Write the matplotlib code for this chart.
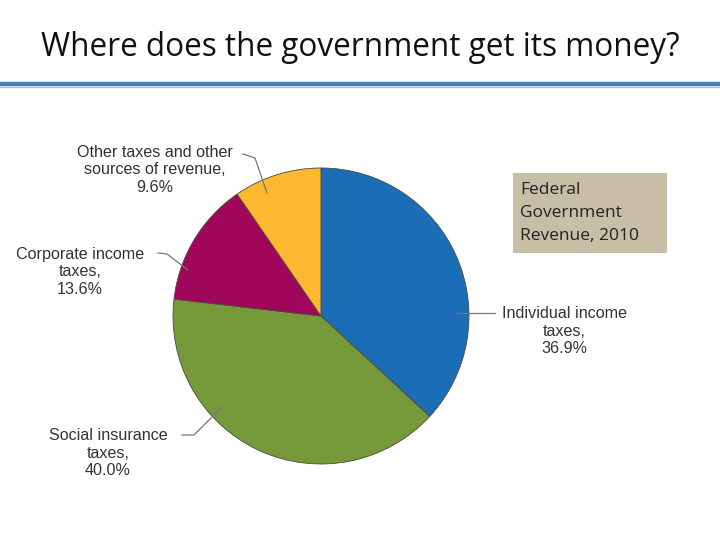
import matplotlib
matplotlib.use('Agg')
import matplotlib.pyplot as plt
from matplotlib.lines import Line2D
from matplotlib.patches import Rectangle

W, H = 720, 539

title = 'Where does the government get its money?'
box_text = 'Federal\nGovernment\nRevenue, 2010'

labels = ['Individual income\ntaxes,\n36.9%',
          'Social insurance\ntaxes,\n40.0%',
          'Corporate income\ntaxes,\n13.6%',
          'Other taxes and other\nsources of revenue,\n9.6%']
shares = [36.9, 40.0, 13.6, 9.6]
colors = ['#1b6db5', '#76993a', '#a0075a', '#fbb830']

# label centres (px) and leader lines (px), one per slice
label_pos = [(564, 331), (108, 453), (80, 272), (155, 170)]
leaders = [
    [(457, 313), (495, 313)],
    [(222, 407), (194, 435), (182, 435)],
    [(188, 270), (167, 254), (158, 253)],
    [(267, 193), (255, 158), (243, 154)],
]

fig = plt.figure(figsize=(W / 100, H / 100), dpi=100)
fig.patch.set_facecolor('white')

def fx(px):
    return px / W

def fy(py):
    return 1 - py / H

# title and rule
fig.text(0.5, fy(48), title, ha='center', va='center', fontsize=22.7,
         family='Open Sans', color='#111111')
fig.add_artist(Line2D([0, 1], [fy(84), fy(84)], color='#4a7ebb', lw=3.2))
fig.add_artist(Line2D([0, 1], [fy(86.5), fy(86.5)], color='#a9c1de', lw=1))

# pie
cx, cy, r = 321, 316, 148
ax = fig.add_axes([fx(cx - r), fy(cy + r), 2 * r / W, 2 * r / H])
ax.pie(shares, colors=colors, startangle=90, counterclock=False,
       wedgeprops=dict(edgecolor='#4a4a3a', linewidth=0.6))
ax.set_xlim(-1, 1)
ax.set_ylim(-1, 1)
ax.set_aspect('equal')
ax.axis('off')

for (tx, ty), lab, pts in zip(label_pos, labels, leaders):
    fig.text(fx(tx), fy(ty), lab, ha='center', va='center', fontsize=11.6,
             family='Liberation Sans', color='#333333', linespacing=1.2)
    xs = [fx(p[0]) for p in pts]
    ys = [fy(p[1]) for p in pts]
    fig.add_artist(Line2D(xs, ys, color='#777777', lw=0.9))

# legend-ish box
fig.add_artist(Rectangle((fx(513), fy(253)), fx(667) - fx(513), fy(173) - fy(253),
                         facecolor='#c8bea6', edgecolor='none',
                         transform=fig.transFigure))
fig.text(fx(520), fy(213), box_text, ha='left', va='center', fontsize=12.5,
         family='Open Sans', color='#222222', linespacing=1.55)

fig.savefig('out.png', dpi=100)
